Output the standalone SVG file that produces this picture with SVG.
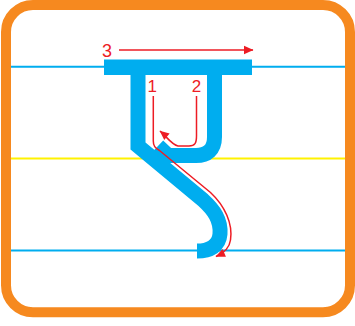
<svg xmlns="http://www.w3.org/2000/svg" width="355" height="326" viewBox="0 0 355 326">
  <style>
    .guide { stroke-width: 2; fill: none; }
    .blue { stroke: #00adef; }
    .yellow { stroke: #fff200; }
    .glyph { fill: none; stroke: #00adef; stroke-width: 15; stroke-linejoin: miter; stroke-linecap: butt; }
    .red { fill: none; stroke: #ed1c24; stroke-width: 1.5; }
    .lbl { font-family: "Liberation Sans", Arial, sans-serif; fill: #ed1c24; }
  </style>
  <defs>
    <marker id="ah" markerUnits="userSpaceOnUse" markerWidth="12" markerHeight="12" viewBox="-10 -6 12 12" refX="0" refY="0" orient="auto">
      <path d="M0.5,0 L-9,-4.2 L-9,4.2 Z" fill="#ed1c24"/>
    </marker>
  </defs>

  <g id="frame">
    <rect x="6" y="5" width="344" height="307.3" rx="27" ry="27" fill="#ffffff" stroke="#f6891f" stroke-width="10"/>
  </g>

  <g id="guides">
    <line class="guide blue" x1="11" y1="66.7" x2="345" y2="66.7"/>
    <line class="guide yellow" x1="11" y1="158.5" x2="345" y2="158.5"/>
    <line class="guide blue" x1="11" y1="250.5" x2="345" y2="250.5"/>
  </g>

  <g id="glyph">
    <rect x="104" y="59.5" width="148" height="15.5" fill="#00adef"/>
    <path class="glyph" d="M138,74 V146 L203,200 C214,210 221,220 220,234 C219,246 210,251 197,251"/>
    <path class="glyph" d="M214.5,74 V137 C214.5,150 207,155.5 196,155.5 L168,155.5 L158,146"/>
  </g>

  <g id="connectors">
    <path id="stroke1" class="red" d="M153.3,96 V141 C153.3,146 155,148 159.5,150.5 L210.5,192.5 C225,206 233,224 230.5,240 C229.5,248 224,253 216,256.5" marker-end="url(#ah)"/>
    <path id="stroke2" class="red" d="M196.5,96 V136 C196.5,143 195,146 189,146 L178,146 C172,145 166,136 160,131" marker-end="url(#ah)"/>
    <path id="stroke3" class="red" d="M119,50 H253" marker-end="url(#ah)"/>
  </g>

  <g id="label1"><text class="lbl" x="147.5" y="92" font-size="17">1</text></g>
  <g id="label2"><text class="lbl" x="191.7" y="92" font-size="17">2</text></g>
  <g id="label3"><text class="lbl" x="102" y="57" font-size="18">3</text></g>
</svg>
